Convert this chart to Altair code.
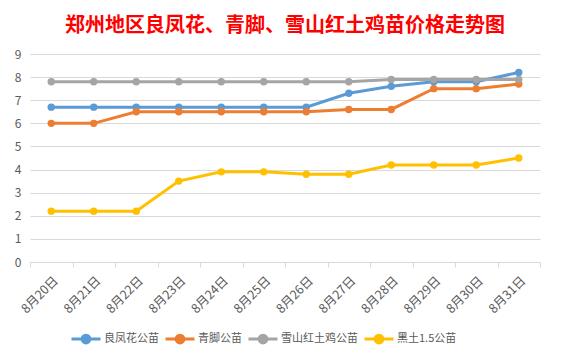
import altair as alt
import pandas as pd

dates = ["8月20日", "8月21日", "8月22日", "8月23日", "8月24日", "8月25日",
         "8月26日", "8月27日", "8月28日", "8月29日", "8月30日", "8月31日"]
series_names = ["良凤花公苗", "青脚公苗", "雪山红土鸡公苗", "黑土1.5公苗"]
lianghua = [6.7, 6.7, 6.7, 6.7, 6.7, 6.7, 6.7, 7.3, 7.6, 7.8, 7.8, 8.2]
qingjiao = [6.0, 6.0, 6.5, 6.5, 6.5, 6.5, 6.5, 6.6, 6.6, 7.5, 7.5, 7.7]
xueshan = [7.8, 7.8, 7.8, 7.8, 7.8, 7.8, 7.8, 7.8, 7.9, 7.9, 7.9, 7.9]
heitu = [2.2, 2.2, 2.2, 3.5, 3.9, 3.9, 3.8, 3.8, 4.2, 4.2, 4.2, 4.5]
colors = ["#5B9BD5", "#ED7D31", "#A5A5A5", "#FFC000"]

rows = []
for name, vals in zip(series_names, [lianghua, qingjiao, xueshan, heitu]):
    for d, v in zip(dates, vals):
        rows.append({"date": d, "series": name, "value": v})
df = pd.DataFrame(rows)

font = "Noto Sans CJK SC"
sym = "M-1,0L1,0M-0.27,0a0.27,0.27 0 1,0 0.54,0a0.27,0.27 0 1,0 -0.54,0"

x = alt.X("date:N", sort=dates, title=None,
          scale=alt.Scale(paddingInner=0, paddingOuter=0),
          axis=alt.Axis(labelAngle=-45, tickBand="extent", labelColor="#595959",
                        labelFontSize=12.5, labelFont=font, domainColor="#D9D9D9",
                        tickColor="#D9D9D9", tickSize=5, grid=False, labelPadding=7))
y = alt.Y("value:Q", title=None,
          scale=alt.Scale(domain=[0, 9], nice=False),
          axis=alt.Axis(values=list(range(10)), labelColor="#595959", labelFontSize=12,
                        labelFont=font, domain=False, ticks=False, gridColor="#D9D9D9",
                        labelPadding=9))
color = alt.Color("series:N", sort=series_names,
                  scale=alt.Scale(domain=series_names, range=colors),
                  legend=alt.Legend(title=None, orient="none", direction="horizontal",
                                    legendX=40, legendY=269, symbolType=sym,
                                    symbolSize=841, symbolStrokeWidth=3,
                                    labelFont=font, labelFontSize=11,
                                    labelColor="#595959", columnPadding=0,
                                    symbolOffset=0, labelOffset=2))

base = alt.Chart(df)
lines = base.mark_line(strokeWidth=3).encode(x=x, y=y, color=color)
pts = base.mark_point(filled=True, size=55, opacity=1).encode(x=x, y=y, color=color)

chart = alt.layer(lines, pts).properties(
    width=510, height=208,
    autosize=alt.AutoSizeParams(type="none"),
    padding={"left": 22, "top": 46, "right": 20, "bottom": 85},
    title=alt.Title("郑州地区良凤花、青脚、雪山红土鸡苗价格走势图", color="#FF0000",
                    fontSize=20, font=font, fontWeight="bold", anchor="middle",
                    offset=12),
    background="white",
).configure_view(stroke=None)

chart.save("out.html", embed_options={"renderer": "svg", "actions": False})
